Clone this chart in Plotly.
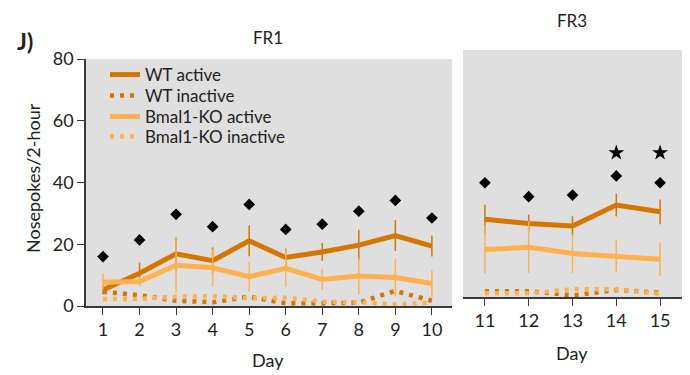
import plotly.graph_objects as go

W, H = 690, 375
OFF = 8  # page body margin in the browser

# ---------------- data ----------------
days_fr1 = [1, 2, 3, 4, 5, 6, 7, 8, 9, 10]
wt_active_fr1 = [5.2, 10.6, 16.9, 14.7, 21.1, 15.7, 17.5, 19.7, 22.8, 19.4]
wt_active_fr1_err = [1.5, 3.5, 5.4, 4.3, 5.0, 2.9, 2.9, 5.0, 5.0, 3.4]
wt_inactive_fr1 = [4.6, 3.5, 1.7, 1.2, 3.0, 0.9, 0.9, 1.1, 4.9, 1.7]
ko_active_fr1 = [7.7, 7.9, 13.2, 12.4, 9.5, 12.2, 8.6, 9.7, 9.2, 7.3]
ko_active_fr1_err = [2.8, 1.5, 9.0, 6.0, 4.8, 6.0, 3.4, 6.0, 6.0, 4.3]
ko_inactive_fr1 = [2.3, 2.3, 3.0, 3.2, 2.5, 2.7, 1.4, 1.2, 0.5, 1.1]
sig_fr1 = [16.0, 21.4, 29.7, 25.7, 32.9, 24.8, 26.5, 30.7, 34.2, 28.5]

days_fr3 = [11, 12, 13, 14, 15]
wt_active_fr3 = [25.2, 23.8, 23.0, 29.8, 27.6]
wt_active_fr3_err = [4.7, 2.9, 3.2, 3.7, 4.0]
wt_inactive_fr3 = [1.9, 1.9, 0.5, 2.3, 1.4]
ko_active_fr3 = [15.4, 16.1, 14.1, 13.3, 12.2]
ko_active_fr3_err = [7.8, 8.4, 6.3, 5.3, 5.5]
ko_inactive_fr3 = [1.2, 1.2, 2.5, 2.5, 1.0]
sig_fr3 = [37.0, 32.5, 33.0, 39.2, 37.0]
star_days_fr3 = [14, 15]
star_fr3 = [46.7, 46.7]

y_ticks = [0, 20, 40, 60, 80]
series_names = ["WT active", "WT inactive", "Bmal1-KO active", "Bmal1-KO inactive"]

# ---------------- style ----------------
DARK = "#D47600"
LIGHT = "#FFB04F"
BG = "#DFDFDF"
AX = "#3a3a3a"
FONT = "Lato"
DOT = "4px,6px"

def px_x(p):
    return (p - OFF) / W

def px_y(p):
    return 1 - (p - OFF) / H

fig = go.Figure()

def add_panel(xref, yref, days, wa, wae, wi, ka, kae, ki, show):
    fig.add_trace(go.Scatter(
        x=days, y=wa, mode="lines", name=series_names[0],
        line=dict(color=DARK, width=5),
        error_y=dict(type="data", array=wae, color=DARK, thickness=1.5, width=0),
        xaxis=xref, yaxis=yref, showlegend=show, legend="legend"))
    fig.add_trace(go.Scatter(
        x=days, y=ka, mode="lines", name=series_names[2],
        line=dict(color=LIGHT, width=5),
        error_y=dict(type="data", array=kae, color=LIGHT, thickness=1.5, width=0),
        xaxis=xref, yaxis=yref, showlegend=show, legend="legend3"))
    fig.add_trace(go.Scatter(
        x=days, y=wi, mode="lines", name=series_names[1],
        line=dict(color=DARK, width=4.5, dash=DOT),
        xaxis=xref, yaxis=yref, showlegend=show, legend="legend2"))
    fig.add_trace(go.Scatter(
        x=days, y=ki, mode="lines", name=series_names[3],
        line=dict(color=LIGHT, width=4.5, dash=DOT),
        xaxis=xref, yaxis=yref, showlegend=show, legend="legend4"))

add_panel("x", "y", days_fr1, wt_active_fr1, wt_active_fr1_err, wt_inactive_fr1,
          ko_active_fr1, ko_active_fr1_err, ko_inactive_fr1, True)
add_panel("x2", "y2", days_fr3, wt_active_fr3, wt_active_fr3_err, wt_inactive_fr3,
          ko_active_fr3, ko_active_fr3_err, ko_inactive_fr3, False)

fig.add_trace(go.Scatter(x=days_fr1, y=sig_fr1, mode="markers", showlegend=False,
                         marker=dict(symbol="diamond", size=9, color="black"),
                         xaxis="x", yaxis="y"))
fig.add_trace(go.Scatter(x=days_fr3, y=sig_fr3, mode="markers", showlegend=False,
                         marker=dict(symbol="diamond", size=9, color="black"),
                         xaxis="x2", yaxis="y2"))
fig.add_trace(go.Scatter(x=star_days_fr3, y=star_fr3, mode="markers", showlegend=False,
                         marker=dict(symbol="star", size=12, color="black"),
                         xaxis="x2", yaxis="y2"))

tickfont = dict(family=FONT, size=18, color="#222")

def leg(row_y):
    return dict(x=px_x(105), y=px_y(row_y), xanchor="left", yanchor="middle",
                bgcolor="rgba(0,0,0,0)", font=dict(family=FONT, size=17, color="#222"),
                itemwidth=30, borderwidth=0)

fig.update_layout(
    width=W, height=H,
    margin=dict(l=0, r=0, t=0, b=0),
    paper_bgcolor="white",
    plot_bgcolor=BG,
    font=dict(family=FONT, color="#222"),
    xaxis=dict(domain=[px_x(86), px_x(452)], range=[0.535, 10.55],
               tickvals=days_fr1, ticktext=[str(d) for d in days_fr1],
               showline=True, linecolor=AX, linewidth=1.5,
               ticks="outside", ticklen=7, tickwidth=1.2, tickcolor=AX,
               showgrid=False, zeroline=False, tickfont=tickfont, anchor="y",
               automargin=False),
    yaxis=dict(domain=[px_y(306), px_y(59)], range=[0, 80],
               tickvals=y_ticks,
               showline=True, linecolor=AX, linewidth=1.5,
               ticks="outside", ticklen=7, tickwidth=1.2, tickcolor=AX,
               showgrid=False, zeroline=False, tickfont=tickfont, anchor="x",
               automargin=False),
    xaxis2=dict(domain=[px_x(463), px_x(682)], range=[10.5, 15.5],
                tickvals=days_fr3, ticktext=[str(d) for d in days_fr3],
                showline=True, linecolor=AX, linewidth=1.5,
                ticks="outside", ticklen=7, tickwidth=1.2, tickcolor=AX,
                showgrid=False, zeroline=False, tickfont=tickfont, anchor="y2",
                automargin=False),
    yaxis2=dict(domain=[px_y(297), px_y(50)], range=[0, 80],
                showline=False, showticklabels=False, ticks="",
                showgrid=False, zeroline=False, anchor="x2", automargin=False),
    legend=leg(75),
    legend2=leg(96),
    legend3=leg(117),
    legend4=leg(137),
)

ann = [
    dict(text="<b>J)</b>", x=px_x(25), y=px_y(41), size=23),
    dict(text="FR1", x=px_x(268), y=px_y(37), size=17),
    dict(text="FR3", x=px_x(572), y=px_y(20), size=17),
    dict(text="Day", x=px_x(268), y=px_y(360), size=18),
    dict(text="Day", x=px_x(572), y=px_y(353), size=18),
]
for a in ann:
    fig.add_annotation(text=a["text"], x=a["x"], y=a["y"], xref="paper", yref="paper",
                       xanchor="center", yanchor="middle", showarrow=False,
                       font=dict(family=FONT, size=a["size"], color="#222"))
fig.add_annotation(text="Nosepokes/2-hour", x=px_x(33), y=px_y(178), xref="paper", yref="paper",
                   xanchor="center", yanchor="middle", showarrow=False, textangle=-90,
                   font=dict(family=FONT, size=18, color="#222"))

fig.write_html("out.html")
